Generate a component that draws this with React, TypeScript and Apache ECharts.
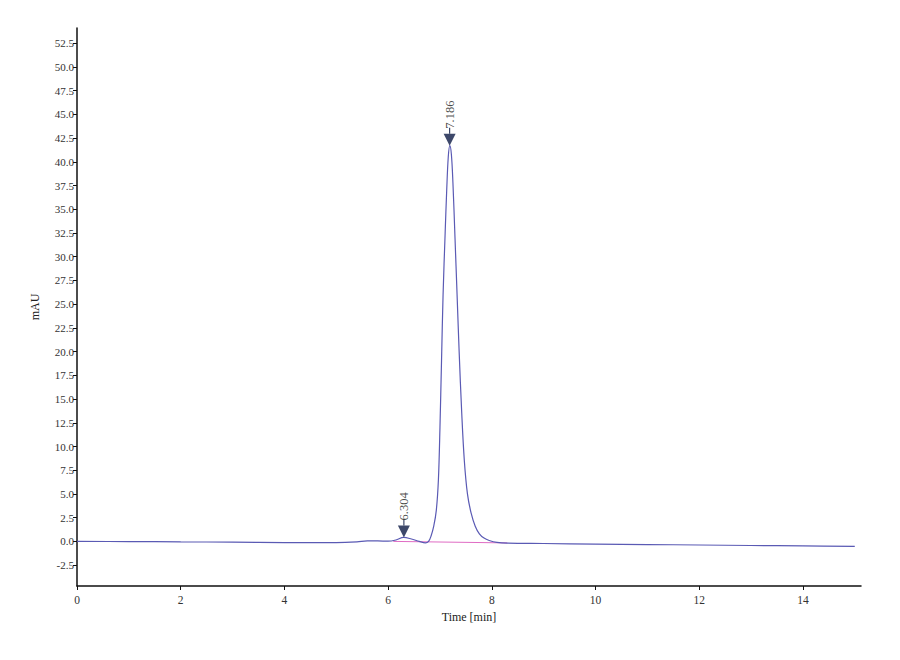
import React, { useEffect, useRef } from 'react'
import * as echarts from 'echarts'

// chromatogram trace [time (min), absorbance (mAU)]
const trace: Array<[number, number]> = [
    [0, 0.0], [1, -0.02], [2, -0.05], [3, -0.08], [4, -0.12], [5, -0.12],
    [5.4, -0.05], [5.6, 0.05], [5.8, 0.05], [6.0, 0.02], [6.15, 0.15], [6.3, 0.42],
    [6.45, 0.25], [6.6, 0.0], [6.72, -0.15], [6.78, 0.0], [6.83, 0.6], [6.88, 1.6],
    [6.93, 3.3], [6.97, 6.5], [7.0, 12], [7.03, 19], [7.06, 26], [7.1, 32.5],
    [7.13, 37], [7.16, 40.5], [7.19, 41.7], [7.22, 40.8], [7.25, 37.8], [7.29, 32],
    [7.33, 26], [7.37, 20], [7.42, 13.5], [7.47, 8.5], [7.53, 5.0], [7.6, 3.0],
    [7.68, 1.6], [7.76, 0.8], [7.85, 0.35], [7.95, 0.1], [8.1, -0.1], [8.3, -0.18],
    [9, -0.22], [10, -0.28], [11, -0.33], [12, -0.38], [13, -0.43], [14, -0.48], [15, -0.52],
]

// integration baseline
const baseline: Array<[number, number]> = [[6.1, 0.0], [8.3, -0.16]]

// peak apexes [retention time, height]
const peaks: Array<[number, number]> = [[6.304, 0.42], [7.186, 41.7]]

const xTicks = [0, 2, 4, 6, 8, 10, 12, 14]
const yTicks = [-2.5, 0, 2.5, 5, 7.5, 10, 12.5, 15, 17.5, 20, 22.5, 25, 27.5, 30,
    32.5, 35, 37.5, 40, 42.5, 45, 47.5, 50, 52.5]

const FONT = '"Liberation Serif", "DejaVu Serif", serif'

const App: React.FC = () => {
    const chartRef = useRef<HTMLDivElement | null>(null)

    useEffect(() => {
        if (!chartRef.current) return
        const chart = echarts.init(chartRef.current, null, { renderer: 'svg' })

        const axisLine = { show: true, onZero: false, lineStyle: { color: '#111', width: 1.5 } }

        chart.setOption({
            animation: false,
            backgroundColor: '#fff',
            grid: { left: 77, right: 39, top: 28, bottom: 74, containLabel: false },
            xAxis: {
                type: 'value',
                min: 0,
                max: 15.12,
                name: 'Time [min]',
                nameLocation: 'middle',
                nameGap: 22,
                nameTextStyle: { fontFamily: FONT, fontSize: 12, color: '#222' },
                axisLine,
                axisTick: { show: true, length: 4, customValues: xTicks, lineStyle: { color: '#111' } },
                axisLabel: {
                    customValues: xTicks,
                    fontFamily: FONT, fontSize: 11.5, color: '#333', margin: 8,
                    formatter: (v: number) => String(v),
                },
                splitLine: { show: false },
            },
            yAxis: {
                type: 'value',
                min: -4.7,
                max: 54.1,
                name: 'mAU',
                nameLocation: 'middle',
                nameGap: 36,
                nameRotate: 90,
                nameTextStyle: { fontFamily: FONT, fontSize: 12, color: '#222' },
                axisLine,
                axisTick: { show: true, length: 4, customValues: yTicks, lineStyle: { color: '#111' } },
                axisLabel: {
                    customValues: yTicks,
                    fontFamily: FONT, fontSize: 11, color: '#333', margin: 3,
                    formatter: (v: number) => v.toFixed(1),
                },
                splitLine: { show: false },
            },
            series: [
                {
                    type: 'line',
                    data: baseline,
                    symbol: 'none',
                    lineStyle: { color: '#e06cc4', width: 1 },
                    z: 1,
                },
                {
                    type: 'line',
                    data: trace,
                    symbol: 'none',
                    smooth: 0.35,
                    lineStyle: { color: '#5a5ab4', width: 1.2 },
                    z: 2,
                },
                {
                    // short stem between marker and label
                    type: 'scatter',
                    data: peaks,
                    symbol: 'rect',
                    symbolSize: [1.2, 6],
                    symbolOffset: [0, -15],
                    itemStyle: { color: '#0c1a45' },
                    silent: true,
                    z: 3,
                },
                {
                    type: 'scatter',
                    data: peaks,
                    symbol: 'triangle',
                    symbolRotate: 180,
                    symbolSize: [12, 12],
                    symbolOffset: [0, -6],
                    itemStyle: { color: '#0c1a45' },
                    label: {
                        show: true,
                        position: 'top',
                        rotate: 90,
                        align: 'left',
                        verticalAlign: 'middle',
                        distance: 5,
                        fontFamily: FONT,
                        fontSize: 12.5,
                        color: '#1a1a1a',
                        formatter: (p: any) => p.value[0].toFixed(3),
                    },
                    z: 4,
                },
            ],
        })

        const handleResize = () => chart.resize()
        window.addEventListener('resize', handleResize)
        return () => {
            window.removeEventListener('resize', handleResize)
            chart.dispose()
        }
    }, [])

    return <div ref={chartRef} style={{ width: '900px', height: '660px', margin: '-8px' }} />
}

export default App
